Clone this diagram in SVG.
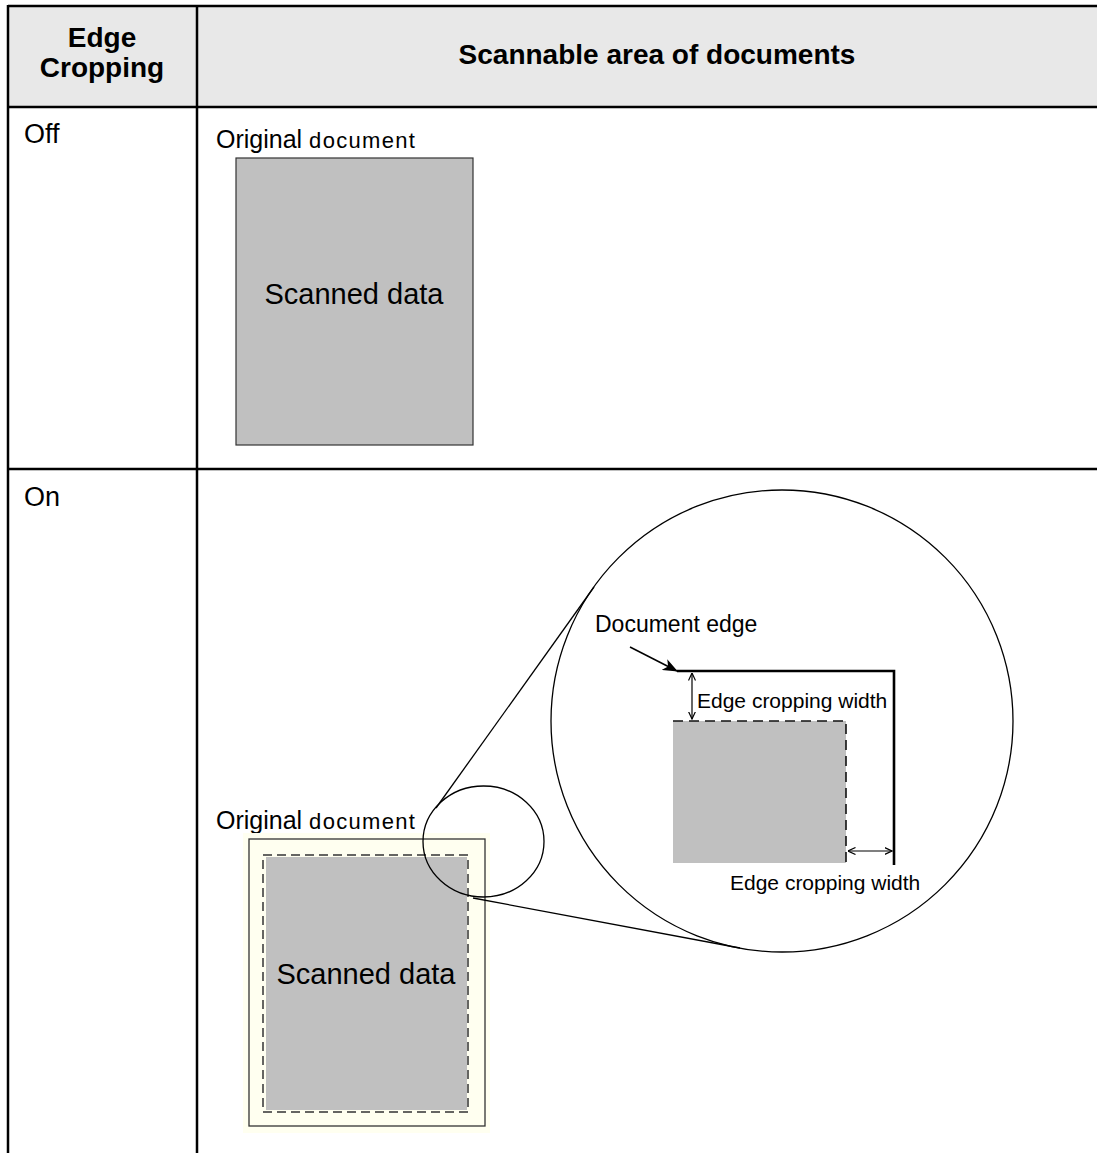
<svg xmlns="http://www.w3.org/2000/svg" width="1097" height="1153" viewBox="0 0 1097 1153">
<defs>
<style>
text{font-family:"Liberation Sans",Arial,sans-serif;fill:#000}
.hdr{font-weight:bold;font-size:28px}
.lbl{font-size:27px}
.doc{fill:#c0c0c0;stroke:#333;stroke-width:1.2}
.grid{stroke:#000;stroke-width:2.5;fill:none}
.thin{stroke:#000;stroke-width:1.3;fill:none}
.dash{stroke:#333;stroke-width:1.5;fill:none;stroke-dasharray:9 5}
</style>
<marker id="arrFill" viewBox="0 0 15 12" refX="14" refY="6" markerWidth="15" markerHeight="12" markerUnits="userSpaceOnUse" orient="auto">
<path d="M0,0 L15,6 L0,12 L4,6 Z" fill="#000"/>
</marker>
<marker id="arrOpen" viewBox="0 0 8 8" refX="7.5" refY="4" markerWidth="8" markerHeight="8" markerUnits="userSpaceOnUse" orient="auto-start-reverse">
<path d="M0,0.5 L7.5,4 L0,7.5" fill="none" stroke="#000" stroke-width="1.2"/>
</marker>
</defs>
<rect width="1097" height="1153" fill="#fff"/>
<g id="table">
<rect x="8" y="6" width="1089" height="101" fill="#e8e8e8"/>
<line class="grid" x1="8" y1="6" x2="1097" y2="6"/>
<line class="grid" x1="8" y1="107" x2="1097" y2="107"/>
<line class="grid" x1="8" y1="469" x2="1097" y2="469"/>
<line class="grid" x1="8" y1="5" x2="8" y2="1153"/>
<line class="grid" x1="197" y1="5" x2="197" y2="1153"/>
<text class="hdr" x="102" y="47" text-anchor="middle">Edge</text>
<text class="hdr" x="102" y="77" text-anchor="middle">Cropping</text>
<text class="hdr" x="657" y="64" text-anchor="middle">Scannable area of documents</text>
<text class="lbl" x="24" y="143">Off</text>
<text class="lbl" x="24" y="506">On</text>
</g>
<g id="off-doc">
<text x="216" y="148" font-size="25">Original <tspan font-size="22" letter-spacing="1.3">document</tspan></text>
<rect class="doc" x="236" y="158" width="237" height="287"/>
<text x="354" y="304" text-anchor="middle" font-size="29">Scanned data</text>
</g>
<g id="on-doc">
<text x="216" y="829" font-size="25">Original <tspan font-size="22" letter-spacing="1.3">document</tspan></text>
<rect x="243" y="833" width="247" height="300" fill="#fffff0"/>
<rect x="249" y="839" width="236" height="287" fill="none" stroke="#333" stroke-width="1.3"/>
<rect x="266" y="857" width="201" height="253" fill="#c0c0c0"/>
<rect class="dash" x="263" y="855" width="205" height="257"/>
<text x="366" y="984" text-anchor="middle" font-size="29">Scanned data</text>
</g>
<g id="magnifier">
<ellipse class="thin" cx="483.5" cy="841.5" rx="60.5" ry="55.5"/>
<circle class="thin" cx="782" cy="721" r="231"/>
</g>
<g id="connectors">
<line class="thin" x1="436" y1="808" x2="594" y2="587"/>
<line class="thin" x1="473" y1="898" x2="740" y2="948"/>
</g>
<g id="detail">
<rect x="673" y="721" width="173" height="142" fill="#c0c0c0"/>
<path d="M673 721 H846 V863" stroke="#111" stroke-width="1.6" fill="none" stroke-dasharray="10 6"/>
<path d="M677 671 H894 V865" stroke="#000" stroke-width="2.6" fill="none"/>
<line x1="630" y1="647" x2="677" y2="671" stroke="#000" stroke-width="1.5" marker-end="url(#arrFill)"/>
<line x1="692" y1="673" x2="692" y2="719" stroke="#000" stroke-width="1.2" marker-start="url(#arrOpen)" marker-end="url(#arrOpen)"/>
<line x1="848" y1="851" x2="892" y2="851" stroke="#000" stroke-width="1.2" marker-start="url(#arrOpen)" marker-end="url(#arrOpen)"/>
<text x="595" y="632" font-size="23">Document edge</text>
<text x="697" y="708" font-size="21">Edge cropping width</text>
<text x="730" y="890" font-size="21">Edge cropping width</text>
</g>
</svg>
